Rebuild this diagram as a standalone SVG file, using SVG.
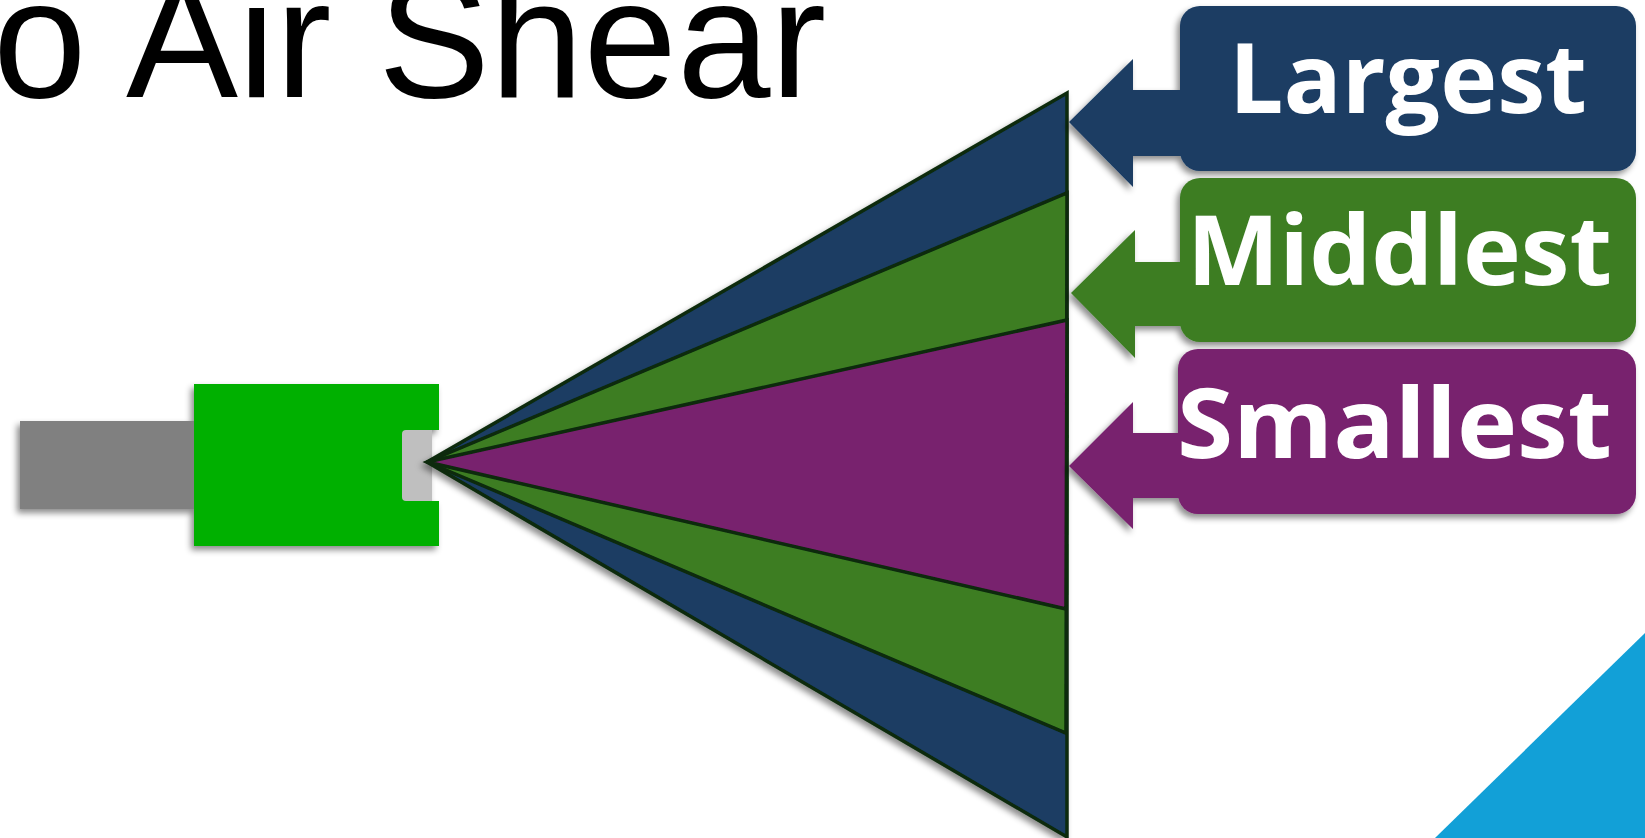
<svg xmlns="http://www.w3.org/2000/svg" width="1645" height="838" viewBox="0 0 1645 838">
  <defs>
    <filter id="shadow" x="-10%" y="-10%" width="120%" height="130%">
      <feDropShadow dx="-3" dy="4" stdDeviation="3" flood-color="#000" flood-opacity="0.45"/>
    </filter>
    <style>
      .title { font-family: "Liberation Sans", Arial, sans-serif; font-size: 168px; fill: #000; }
      .label { font-family: "Open Sans", "Liberation Sans", sans-serif; font-weight: 700; font-size: 97px; fill: #fff; }
      .cone { stroke: #0A2A0A; stroke-width: 3.5; stroke-linejoin: miter; }
      .blue { fill: #1A3C64; }
      .green { fill: #3C7D24; }
      .purple { fill: #78206E; }
    </style>
  </defs>

  <rect width="1645" height="838" fill="#fff"/>

  <!-- heading, running off the top-left edge -->
  <text class="title" x="-7" y="97">o <tspan x="126">Air Shear</tspan></text>

  <!-- corner accent -->
  <polygon points="1435,838 1645,633 1645,838" fill="#12A0D7"/>

  <!-- nozzle body -->
  <g id="nozzle" filter="url(#shadow)">
    <rect x="20" y="421" width="176" height="88" fill="#808080"/>
    <path d="M194,384 H439 V430 H432 V501 H439 V546 H194 Z" fill="#00B000"/>
    <path d="M406,430 H432 V501 H406 Q402,501 402,497 V434 Q402,430 406,430 Z" fill="#BFBFBF"/>
  </g>

  <!-- spray fan: three nested droplet bands -->
  <g id="spray" filter="url(#shadow)">
    <polygon class="cone blue" points="427,462 1067,93 1067,837"/>
    <polygon class="cone green" points="427,462 1067,193 1066,733"/>
    <polygon class="cone purple" points="427,462 1067,320 1066,609"/>
  </g>

  <!-- callouts -->
  <g id="callout-largest" filter="url(#shadow)">
    <rect class="blue" x="1180" y="6" width="456" height="165" rx="20"/>
    <polygon class="blue" points="1069,122 1133,59 1133,90 1190,90 1190,156 1133,156 1133,187"/>
    <text class="label" x="1229" y="113" textLength="358" lengthAdjust="spacingAndGlyphs">Largest</text>
  </g>

  <g id="callout-middlest" filter="url(#shadow)">
    <rect class="green" x="1180" y="178" width="456" height="164" rx="20"/>
    <polygon class="green" points="1071,293 1135,230 1135,262 1190,262 1190,326 1135,326 1135,358"/>
    <text class="label" x="1187" y="285" textLength="425" lengthAdjust="spacingAndGlyphs">Middlest</text>
  </g>

  <g id="callout-smallest" filter="url(#shadow)">
    <rect class="purple" x="1178" y="349" width="458" height="165" rx="20"/>
    <polygon class="purple" points="1069,466 1133,402 1133,433 1190,433 1190,498 1133,498 1133,529"/>
    <text class="label" x="1177" y="458" textLength="435" lengthAdjust="spacingAndGlyphs">Smallest</text>
  </g>
</svg>
